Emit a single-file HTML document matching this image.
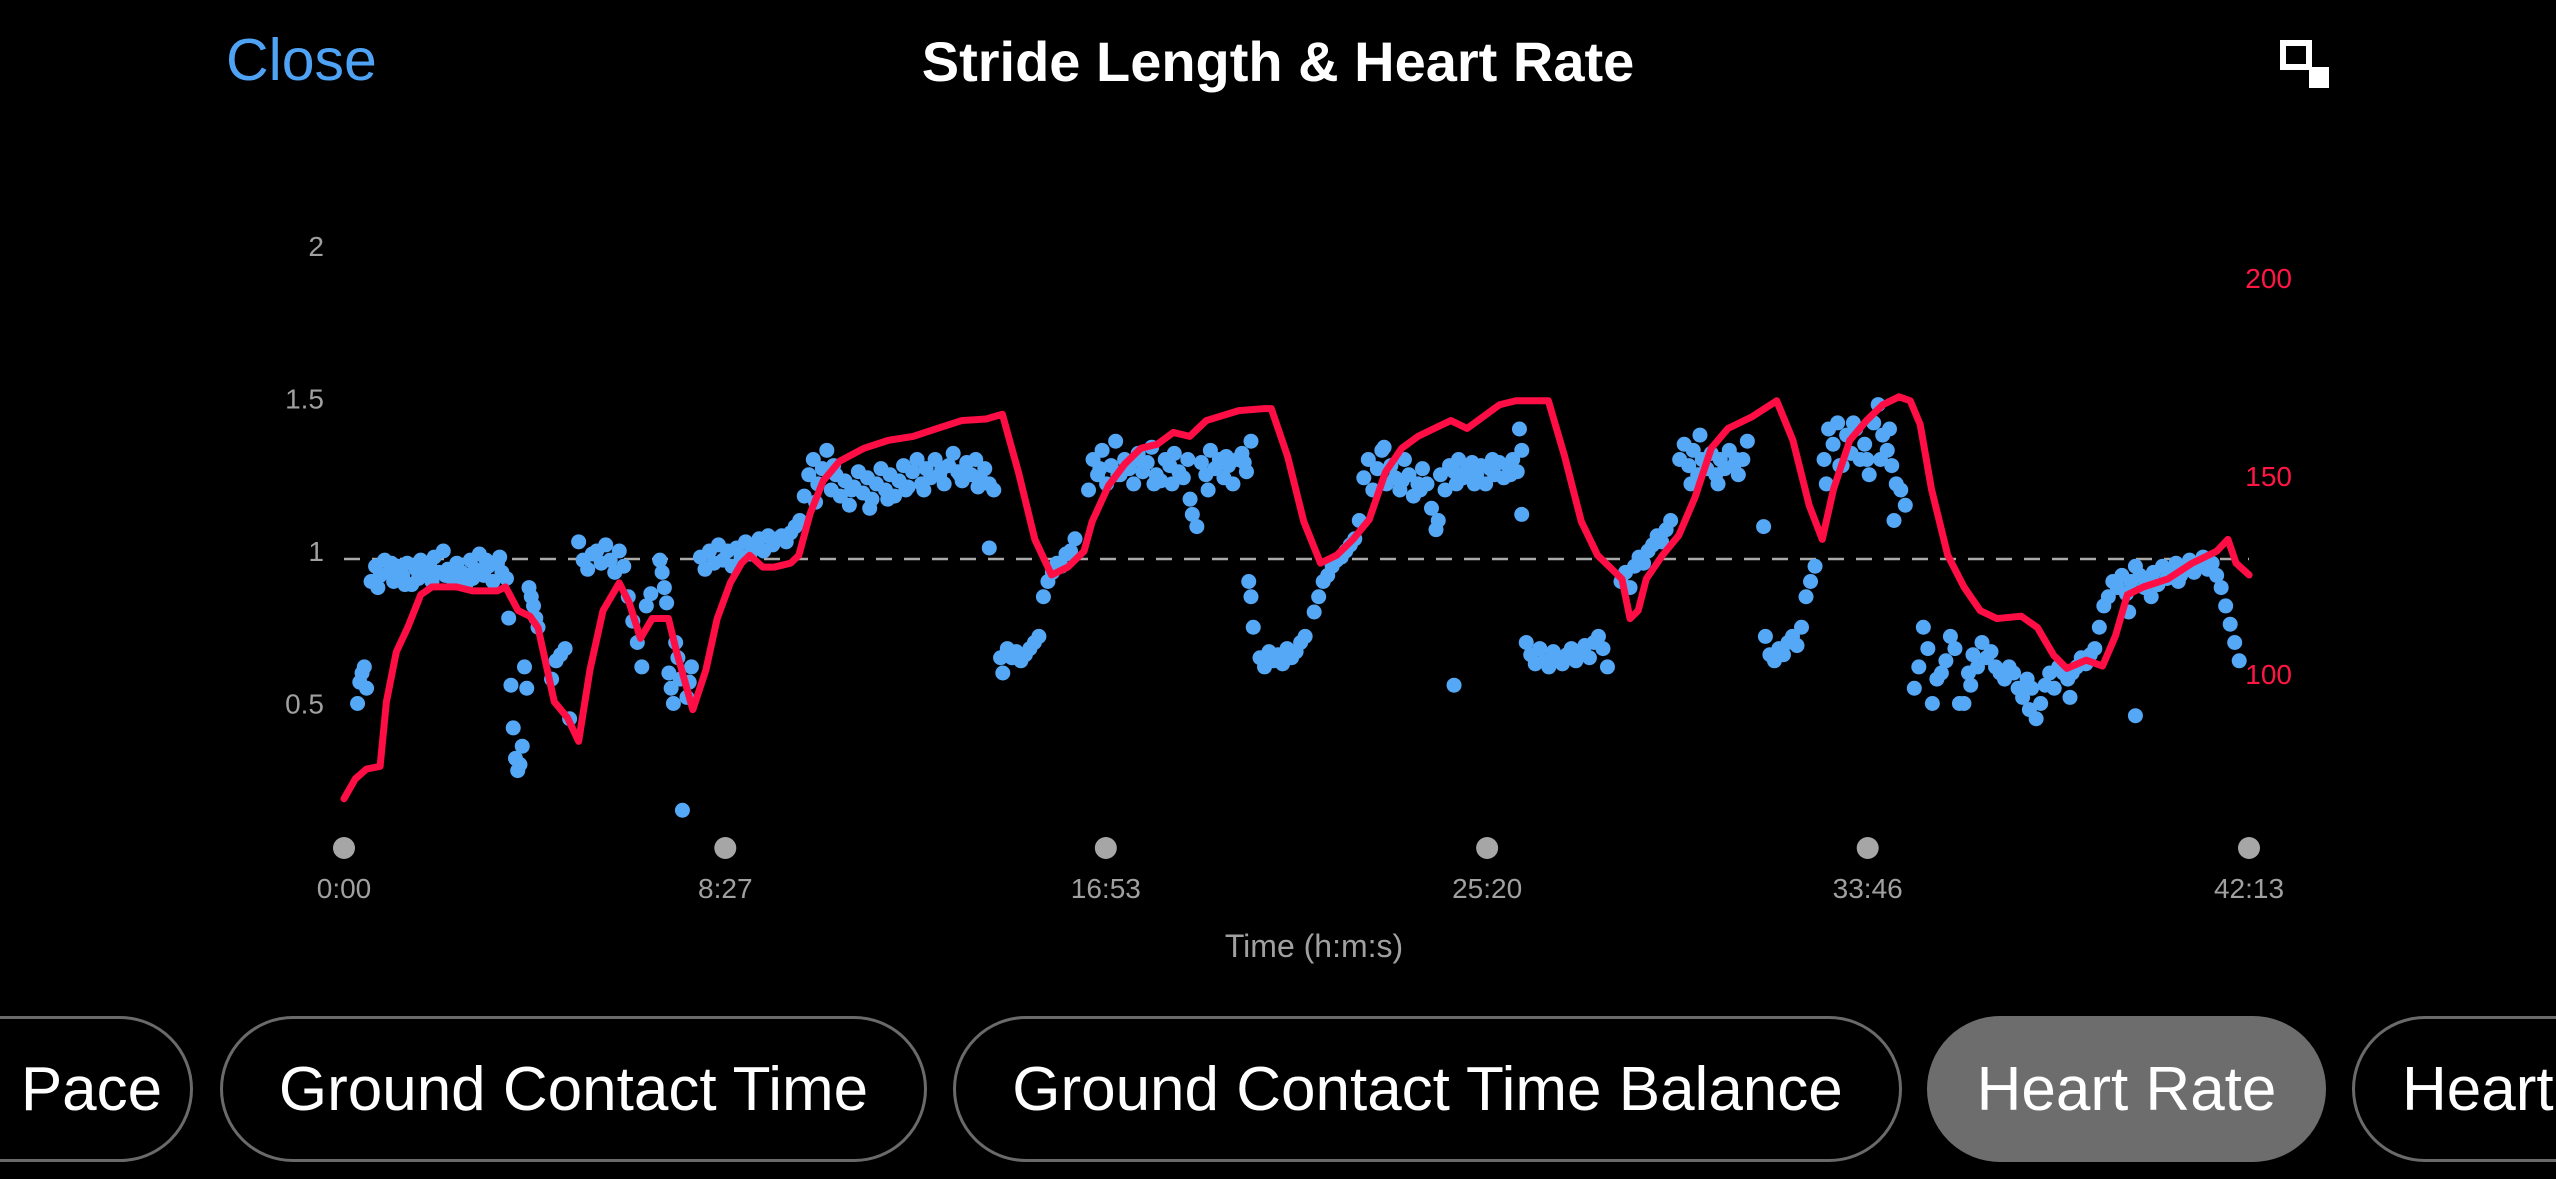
<!DOCTYPE html>
<html><head><meta charset="utf-8"><style>
html,body{margin:0;padding:0;background:#000;width:2556px;height:1179px;overflow:hidden;font-family:"Liberation Sans",sans-serif;}
#close{position:absolute;left:226px;top:26px;font-size:59px;color:#4fa3f5;}
#title{position:absolute;left:0;width:2556px;top:29px;text-align:center;font-size:56px;font-weight:bold;color:#fff;}
#tabs{position:absolute;left:0;top:0;width:2556px;height:1179px;overflow:hidden;}
.pill{position:absolute;top:1016px;height:146px;border:3px solid #6a6a6a;border-radius:75px;box-sizing:border-box;color:#fff;font-size:62px;display:flex;align-items:center;justify-content:center;white-space:nowrap;overflow:hidden;}
</style></head><body>
<div id="close">Close</div>
<div id="title">Stride Length &amp; Heart Rate</div>
<svg style="position:absolute;left:2280px;top:40px" width="54" height="50">
<rect x="3" y="3" width="26" height="24" fill="none" stroke="#fff" stroke-width="6"/>
<rect x="29" y="27" width="20" height="21" fill="#fff"/>
</svg>
<svg id="chart" width="2556" height="1000" style="position:absolute;left:0;top:0"></svg>
<div id="tabs">
<div class="pill" style="left:-200px;width:393px"><span style="margin-left:190px">Pace</span></div>
<div class="pill" style="left:220px;width:707px">Ground Contact Time</div>
<div class="pill" style="left:953px;width:949px">Ground Contact Time Balance</div>
<div class="pill" style="left:1927px;width:399px;background:#6d6d6d;border-color:#6d6d6d">Heart Rate</div>
<div class="pill" style="left:2352px;width:204px;border-right:none;border-radius:75px 0 0 75px;justify-content:flex-start;padding-left:47px">Heart Rate Zones</div>
</div>
<script>
const xTickLabels=["0:00","8:27","16:53","25:20","33:46","42:13"];
const xTickMin=[0,8.45,16.883,25.333,33.767,42.217];
const leftTicks=[2,1.5,1,0.5];
const rightTicks=[200,150,100];
const hrT=[0,0.25,0.5,0.8,0.94,1.16,1.41,1.7,1.95,2.49,2.85,3.4,3.58,3.86,4.12,4.3,4.66,4.95,5.2,5.45,5.74,6.1,6.32,6.57,6.83,7.19,7.37,7.73,8.02,8.27,8.56,8.81,8.99,9.28,9.54,9.9,10.08,10.33,10.62,10.98,11.52,12.06,12.61,13.15,13.69,14.23,14.59,14.95,15.31,15.68,16.04,16.4,16.58,16.94,17.3,17.66,18.02,18.38,18.74,19.11,19.83,20.37,20.55,20.91,21.27,21.64,22.0,22.36,22.72,23.08,23.44,23.8,24.16,24.53,24.89,25.25,25.61,25.97,26.69,27.05,27.42,27.78,28.14,28.32,28.5,28.68,28.86,29.22,29.58,29.94,30.3,30.67,31.21,31.75,32.11,32.47,32.76,33.01,33.37,33.74,34.1,34.46,34.71,34.93,35.18,35.54,35.9,36.26,36.63,37.17,37.53,37.89,38.18,38.61,38.97,39.26,39.52,39.88,40.42,40.96,41.5,41.75,41.93,42.22];
const hrV=[68.5,73.5,76,76.7,93,105.6,111.7,120,122,122,121,121,122,116,114.6,111.7,93,89,83,101,116,123,118,109,114,114,105.6,91,101,114,123,128,130,127,127,128,130,140.5,148.8,153.7,157,159,160,162,164,164.4,165.6,150.8,134,125,127,131,138.5,147.5,153,157,158,161,160,164,166.5,167,167,155,138.5,128,130,134,139,151,157,160,162,164,162,165,168,169,169,155,138.5,130,126,124,114,116,124,130,135,144.6,157,162,165,169,159,142.6,134,146.7,159,164,168,170,169,163,146.7,130,122,116,114,114.6,111.7,104.7,101.4,103.5,102,109.7,120,122,124,128,131,134,128,125];
const strideT=[0.3,0.35,0.4,0.45,0.5,
0.6,0.7,0.8,0.9,1.0,1.1,1.2,1.3,1.4,1.5,1.6,1.7,1.8,1.9,2.0,2.1,2.2,2.3,2.4,2.5,2.6,2.7,2.8,2.9,3.0,3.1,3.2,3.3,3.4,3.5,3.6,
0.75,1.05,1.35,1.65,1.95,2.25,2.55,2.85,3.15,3.45,
3.65,3.7,3.75,3.8,3.85,3.9,3.95,4.0,4.05,4.1,4.15,4.2,4.25,4.3,
4.6,4.7,4.8,4.9,5.0,
5.2,5.3,5.4,5.5,5.6,5.7,5.8,5.9,6.0,6.1,6.2,6.3,6.4,6.5,6.6,6.7,6.8,
7.0,7.05,7.1,7.15,7.2,7.25,7.3,7.35,7.4,7.45,7.5,7.6,7.65,7.7,
7.9,8.0,8.1,8.2,8.3,8.4,8.5,8.6,8.7,8.8,8.9,9.0,9.1,9.2,9.3,9.4,9.5,9.6,9.7,9.8,9.9,10.0,10.1,
10.2,10.3,10.4,10.5,10.6,10.7,10.8,10.9,11.0,11.1,11.2,11.3,11.4,11.5,11.6,11.7,11.8,11.9,12.0,12.1,12.2,12.3,12.4,12.5,12.6,12.7,12.8,12.9,13.0,13.1,13.2,13.3,13.4,13.5,13.6,13.7,13.8,13.9,14.0,14.1,14.2,14.3,14.4,
10.45,10.85,11.25,11.65,12.05,12.45,12.85,13.25,13.65,14.05,
14.3,14.55,14.6,14.7,14.8,14.9,15.0,15.1,15.2,15.3,15.4,
15.5,15.6,15.7,15.8,15.9,16.0,16.1,16.2,
16.5,16.6,16.7,16.8,16.9,17.0,17.1,17.2,17.3,17.4,17.5,17.6,17.7,17.8,17.9,18.0,18.1,18.2,18.3,18.4,18.5,18.6,18.7,18.8,18.9,19.0,19.1,19.2,19.3,19.4,19.5,19.6,19.7,19.8,19.9,20.0,20.1,
16.75,17.15,17.55,17.95,18.35,18.75,19.15,19.55,19.95,
20.05,20.1,20.15,20.3,20.4,20.5,20.6,20.7,20.8,20.9,21.0,21.1,21.2,21.3,
21.5,21.6,21.7,21.8,21.9,22.0,22.1,22.2,22.3,22.4,22.5,
22.6,22.7,22.8,22.9,23.0,23.1,23.2,23.3,23.4,23.5,23.6,23.7,23.8,23.9,24.0,24.1,24.2,24.3,24.4,24.5,24.6,24.7,24.8,24.9,25.0,25.1,25.2,25.3,25.4,25.5,25.6,25.7,25.8,25.9,26.0,26.1,
23.05,23.45,23.85,24.25,24.65,25.05,25.45,25.85,26.05,26.1,24.6,
26.2,26.3,26.4,26.5,26.6,26.7,26.8,26.9,27.0,27.1,27.2,27.3,27.4,27.5,27.6,27.7,27.8,27.9,28.0,
28.3,28.4,28.5,28.6,28.7,28.8,28.9,29.0,29.1,29.2,29.3,29.4,
29.6,29.7,29.8,29.9,30.0,30.1,30.2,30.3,30.4,30.5,30.6,30.7,30.8,30.9,31.0,31.1,
30.05,29.85,30.45,30.85,31.46,
31.5,31.6,31.7,31.8,31.9,32.0,32.1,32.2,32.3,32.4,32.5,32.6,
32.8,32.9,33.0,33.1,33.2,33.3,33.4,33.5,33.6,33.7,33.8,33.9,34.0,34.1,34.2,34.3,34.4,34.5,34.6,
32.85,33.15,33.45,33.75,34.05,34.25,34.35,
34.8,34.9,35.0,35.1,35.2,35.3,35.4,35.5,35.6,35.7,35.8,35.9,36.0,36.1,36.2,36.3,36.4,36.5,36.6,36.7,36.8,36.9,37.0,37.1,37.2,37.3,37.4,37.5,37.6,37.7,37.8,37.9,38.0,38.1,38.2,38.3,38.4,38.5,38.6,38.7,38.8,38.9,39.0,39.1,39.2,39.3,39.4,39.5,39.6,39.7,39.8,39.9,40.0,40.1,40.2,40.3,40.4,40.5,40.6,40.7,40.8,40.9,41.0,41.1,41.2,41.3,41.4,41.5,41.6,41.7,41.8,41.9,42.0,
39.7,36.05,37.35,38.25,39.55,40.05,40.65];
const strideV=[0.5,0.57,0.6,0.62,0.55,
0.9,0.95,0.92,0.97,0.93,0.9,0.95,0.92,0.96,0.89,0.94,0.97,0.92,0.95,0.98,0.93,1.0,0.94,0.91,0.96,0.93,0.89,0.97,0.94,0.99,0.92,0.95,0.9,0.96,0.93,0.91,
0.88,0.96,0.89,0.91,0.9,0.92,0.9,0.91,0.97,0.98,
0.78,0.56,0.42,0.32,0.28,0.3,0.36,0.62,0.55,0.88,0.85,0.82,0.78,0.75,
0.58,0.64,0.66,0.68,0.45,
1.03,0.97,0.94,0.99,1.0,0.96,1.02,0.97,0.93,1.0,0.95,0.85,0.77,0.7,0.62,0.82,0.86,
0.97,0.93,0.88,0.83,0.6,0.55,0.5,0.7,0.65,0.58,0.15,0.52,0.57,0.62,
0.98,0.94,1.0,0.96,1.02,0.97,1.0,0.95,1.01,0.98,1.03,0.99,1.01,1.04,1.0,1.05,1.02,1.04,1.05,1.03,1.06,1.08,1.1,
1.18,1.25,1.3,1.22,1.27,1.33,1.2,1.25,1.18,1.23,1.15,1.21,1.26,1.19,1.24,1.17,1.22,1.27,1.2,1.25,1.18,1.23,1.28,1.21,1.26,1.3,1.22,1.27,1.24,1.3,1.25,1.22,1.28,1.32,1.26,1.23,1.29,1.25,1.3,1.24,1.27,1.22,1.2,
1.16,1.28,1.2,1.14,1.17,1.2,1.2,1.27,1.25,1.21,
1.01,0.65,0.6,0.68,0.65,0.67,0.64,0.66,0.68,0.7,0.72,
0.85,0.9,0.93,0.96,0.95,0.99,1.0,1.04,
1.2,1.3,1.25,1.33,1.22,1.28,1.36,1.25,1.3,1.27,1.22,1.32,1.26,1.29,1.34,1.25,1.23,1.3,1.28,1.32,1.26,1.24,1.3,1.12,1.08,1.29,1.25,1.33,1.27,1.3,1.24,1.28,1.22,1.3,1.32,1.26,1.36,
1.27,1.25,1.3,1.22,1.22,1.17,1.2,1.31,1.29,
0.9,0.85,0.75,0.65,0.62,0.67,0.64,0.66,0.63,0.68,0.65,0.67,0.7,0.72,
0.8,0.85,0.9,0.92,0.95,0.97,0.98,1.0,1.02,1.04,1.1,
1.24,1.3,1.2,1.27,1.33,1.22,1.28,1.24,1.2,1.3,1.25,1.18,1.22,1.27,1.22,1.14,1.07,1.25,1.2,1.28,1.26,1.3,1.24,1.27,1.29,1.25,1.28,1.22,1.27,1.25,1.29,1.24,1.28,1.3,1.26,1.33,
1.34,1.23,1.2,1.1,1.22,1.22,1.3,1.25,1.4,1.12,0.56,
0.7,0.66,0.63,0.68,0.64,0.62,0.67,0.65,0.63,0.66,0.68,0.64,0.67,0.69,0.65,0.7,0.72,0.68,0.62,
0.9,0.93,0.88,0.95,0.98,0.96,1.0,1.02,1.05,1.03,1.07,1.1,
1.3,1.35,1.28,1.33,1.25,1.3,1.27,1.32,1.25,1.3,1.27,1.33,1.28,1.25,1.3,1.36,
1.38,1.22,1.22,1.3,1.08,
0.72,0.66,0.64,0.68,0.66,0.7,0.72,0.69,0.75,0.85,0.9,0.95,
1.3,1.4,1.35,1.42,1.28,1.38,1.32,1.4,1.3,1.35,1.25,1.42,1.48,1.38,1.33,1.28,1.22,1.2,1.15,
1.22,1.28,1.42,1.3,1.3,1.4,1.1,
0.55,0.62,0.75,0.68,0.5,0.58,0.6,0.64,0.72,0.68,0.5,0.5,0.6,0.66,0.62,0.7,0.65,0.67,0.62,0.6,0.58,0.62,0.6,0.55,0.52,0.58,0.55,0.45,0.5,0.56,0.6,0.55,0.62,0.6,0.58,0.6,0.62,0.65,0.63,0.66,0.68,0.75,0.82,0.85,0.9,0.88,0.92,0.86,0.9,0.95,0.92,0.88,0.9,0.93,0.89,0.95,0.91,0.93,0.96,0.92,0.94,0.97,0.93,0.95,0.98,0.94,0.96,0.92,0.88,0.82,0.76,0.7,0.64,
0.46,0.56,0.48,0.52,0.8,0.85,0.9];
const NS="http://www.w3.org/2000/svg";
const svg=document.getElementById('chart');
const X0=344,X1=2249,TMAX=42.217;
const xs=t=>X0+t/TMAX*(X1-X0);
const yL=v=>551-(v-1)*305;
const yR=h=>476-(h-150)*3.96;
function mk(tag,attrs){const e=document.createElementNS(NS,tag);for(const k in attrs)e.setAttribute(k,attrs[k]);svg.appendChild(e);return e;}
leftTicks.forEach(v=>{const t=mk('text',{x:324,y:yL(v)+10,'text-anchor':'end','font-size':28,fill:'#a0a0a0','font-family':'Liberation Sans, sans-serif'});t.textContent=String(v);

});
rightTicks.forEach(v=>{const t=mk('text',{x:2292,y:yR(v)+10,'text-anchor':'end','font-size':28,fill:'#ff1744','font-family':'Liberation Sans, sans-serif'});t.textContent=String(v);

});
const ref=mk('line',{x1:X0,x2:X1,y1:559,y2:559,stroke:'#aaa','stroke-width':2.5,'stroke-dasharray':'16 12'});


xTickMin.forEach((m,i)=>{const c=mk('circle',{cx:xs(m),cy:848,r:11,fill:'#a6a6a6'});


const t=mk('text',{x:xs(m),y:898,'text-anchor':'middle','font-size':28,fill:'#a0a0a0','font-family':'Liberation Sans, sans-serif'});t.textContent=xTickLabels[i];

});
const xt=mk('text',{x:1314,y:957,'text-anchor':'middle','font-size':32,fill:'#a0a0a0','font-family':'Liberation Sans, sans-serif'});xt.textContent='Time (h:m:s)';


const g=mk('g',{fill:'#55a8f6'});


strideT.forEach((t,i)=>{const c=document.createElementNS(NS,'circle');c.setAttribute('cx',xs(t));c.setAttribute('cy',yL(strideV[i]));c.setAttribute('r',7.5);


g.appendChild(c);});
const p=mk('polyline',{points:hrT.map((t,i)=>xs(t)+','+yR(hrV[i])).join(' '),fill:'none',stroke:'#ff0d45','stroke-width':7,'stroke-linejoin':'round','stroke-linecap':'round'});


</script>
</body></html>
